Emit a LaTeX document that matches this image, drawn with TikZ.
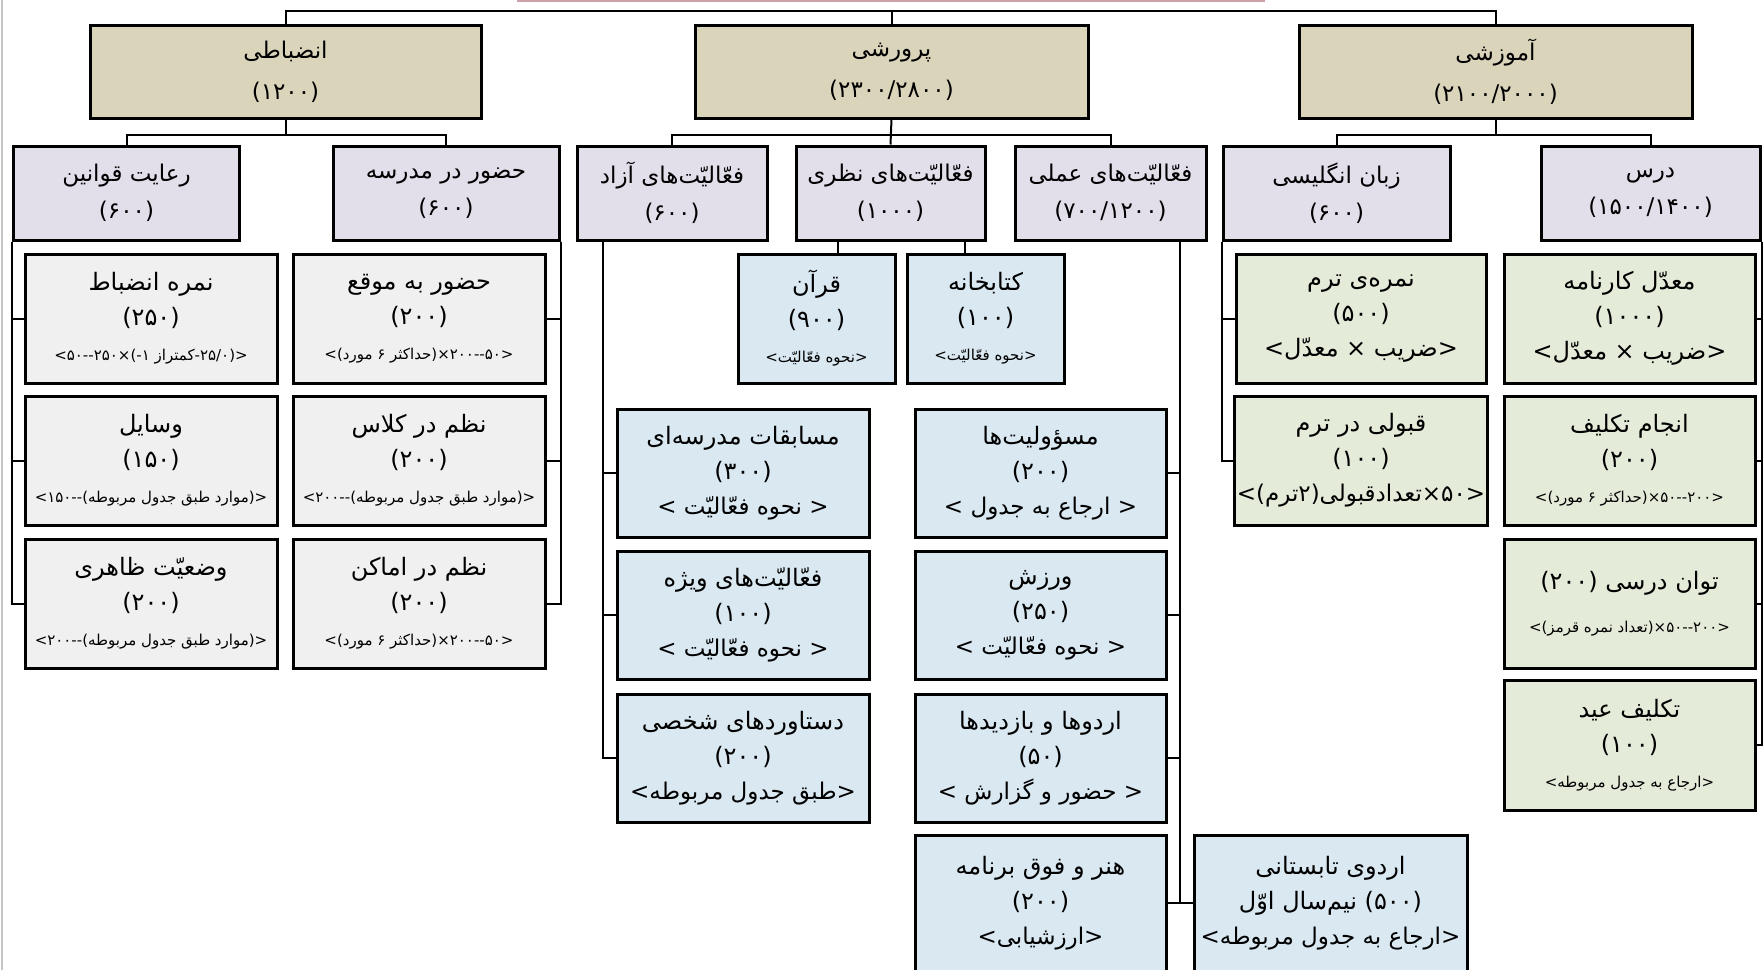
\documentclass[tikz,border=0pt]{standalone}
\usepackage{fontspec}
\usetikzlibrary{calc}
\TeXXeTstate=1
\newfontfamily\fa[Script=Arabic]{DejaVu Sans}
\newcommand\rtlx[1]{\beginR#1\endR}
\newcommand\smF{\fontsize{7.5}{9}\selectfont}
\newcommand\mdF{\fontsize{11.5}{13}\selectfont}
\definecolor{tanc}{RGB}{217,212,186}
\definecolor{lavc}{RGB}{226,222,234}
\definecolor{grayc}{RGB}{240,240,240}
\definecolor{bluec}{RGB}{217,232,241}
\definecolor{greenc}{RGB}{229,235,217}
\definecolor{redl}{RGB}{205,160,168}
\begin{document}
\begin{tikzpicture}[x=0.5pt,y=-0.5pt,
  cn/.style={line width=1pt},
  bx/.style={draw, line width=1.5pt, inner sep=1pt, align=center, font=\fa\fontsize{12}{17.5}\selectfont},
  lo/.style={bx, fill=tanc, minimum height=46.5pt, font=\fa\fontsize{11.5}{20.5}\selectfont},
  lt/.style={bx, fill=lavc, minimum height=47pt, font=\fa\fontsize{11.5}{18.5}\selectfont},
  gb/.style={bx, fill=grayc, minimum width=126pt, minimum height=64.5pt},
  bb/.style={bx, fill=bluec, minimum height=64pt},
  gr/.style={bx, fill=greenc, minimum width=125pt, minimum height=64.5pt}]
\useasboundingbox (0,0) rectangle (1763,971);
\fill[white] (0,0) rectangle (1763,971);
\clip (0,0) rectangle (1763,969);
\draw[gray!45, line width=1pt] (1.5,0) -- (1.5,971);
\draw[redl, line width=1pt] (517,1) -- (1265,1);
% level 1
\node[lo, minimum width=195.5pt] (n1) at (285.5,71.5) {\rtlx{انضباطی}\\(۱۲۰۰)};
\node[lo, minimum width=196.5pt] (n2) at (891.5,71.5) {\rtlx{پرورشی}\\(۲۳۰۰/۲۸۰۰)};
\node[lo, minimum width=196.5pt] (n3) at (1495.5,71.5) {\rtlx{آموزشی}\\(۲۱۰۰/۲۰۰۰)};
% level 2
\node[lt, minimum width=113pt] (a) at (126.5,193) {\rtlx{رعایت قوانین}\\(۶۰۰)};
\node[lt, minimum width=113pt] (b) at (446,193) {\rtlx{حضور در مدرسه}\\(۶۰۰)};
\node[lt, minimum width=95pt] (c) at (672,193) {\rtlx{فعّالیّت‌های آزاد}\\(۶۰۰)};
\node[lt, minimum width=94.5pt] (d) at (890.5,193) {\rtlx{فعّالیّت‌های نظری}\\(۱۰۰۰)};
\node[lt, minimum width=95.5pt] (e) at (1110.5,193) {\rtlx{فعّالیّت‌های عملی}\\(۷۰۰/۱۲۰۰)};
\node[lt, minimum width=113.5pt] (f) at (1336.5,193) {\rtlx{زبان انگلیسی}\\(۶۰۰)};
\node[lt, minimum width=109.5pt] (g) at (1650.5,193) {\rtlx{درس}\\(۱۵۰۰/۱۴۰۰)};
% gray column A
\node[gb] (A1) at (151,318.5) {\rtlx{نمره انضباط}\\(۲۵۰)\\{\smF\rtlx{<(۲۵/۰-کمتراز ۱-)×۲۵۰--۵۰>}}};
\node[gb] (A2) at (151,460.5) {\rtlx{وسایل}\\(۱۵۰)\\{\smF\rtlx{<(موارد طبق جدول مربوطه)--۱۵۰>}}};
\node[gb] (A3) at (151,603.5) {\rtlx{وضعیّت ظاهری}\\(۲۰۰)\\{\smF\rtlx{<(موارد طبق جدول مربوطه)--۲۰۰>}}};
% gray column B
\node[gb] (B1) at (419,318.5) {\rtlx{حضور به موقع}\\(۲۰۰)\\{\smF\rtlx{<۵۰--۲۰۰×(حداکثر ۶ مورد)>}}};
\node[gb] (B2) at (419,460.5) {\rtlx{نظم در کلاس}\\(۲۰۰)\\{\smF\rtlx{<(موارد طبق جدول مربوطه)--۲۰۰>}}};
\node[gb] (B3) at (419,603.5) {\rtlx{نظم در اماکن}\\(۲۰۰)\\{\smF\rtlx{<۵۰--۲۰۰×(حداکثر ۶ مورد)>}}};
% blue
\node[bb, minimum width=78.5pt, minimum height=64.5pt] (quran) at (816.5,318.5) {\rtlx{قرآن}\\(۹۰۰)\\{\smF\rtlx{<نحوه فعّالیّت>}}};
\node[bb, minimum width=78.5pt, minimum height=64.5pt] (kitab) at (985.5,318.5) {\rtlx{کتابخانه}\\(۱۰۰)\\{\smF\rtlx{<نحوه فعّالیّت>}}};
\node[bb, minimum width=126pt] (C1) at (743,473) {\rtlx{مسابقات مدرسه‌ای}\\(۳۰۰)\\{\mdF\rtlx{< نحوه فعّالیّت >}}};
\node[bb, minimum width=126pt] (C2) at (743,615) {\rtlx{فعّالیّت‌های ویژه}\\(۱۰۰)\\{\mdF\rtlx{< نحوه فعّالیّت >}}};
\node[bb, minimum width=126pt] (C3) at (743,758) {\rtlx{دستاوردهای شخصی}\\(۲۰۰)\\{\mdF\rtlx{<طبق جدول مربوطه>}}};
\node[bb, minimum width=125.5pt] (D1) at (1040.5,473) {\rtlx{مسؤولیت‌ها}\\(۲۰۰)\\{\mdF\rtlx{< ارجاع به جدول >}}};
\node[bb, minimum width=125.5pt] (D2) at (1040.5,615) {\rtlx{ورزش}\\(۲۵۰)\\{\mdF\rtlx{< نحوه فعّالیّت >}}};
\node[bb, minimum width=125.5pt] (D3) at (1040.5,758) {\rtlx{اردوها و بازدیدها}\\(۵۰)\\{\mdF\rtlx{< حضور و گزارش >}}};
\node[bb, minimum width=125.5pt, minimum height=68pt] (D4) at (1040.5,903) {\rtlx{هنر و فوق برنامه}\\(۲۰۰)\\{\mdF\rtlx{<ارزشیابی>}}};
\node[bb, minimum width=136.5pt, minimum height=68pt] (camp) at (1330.5,903) {\rtlx{اردوی تابستانی}\\\rtlx{(۵۰۰) نیم‌سال اوّل}\\{\mdF\rtlx{<ارجاع به جدول مربوطه>}}};
% green
\node[gr] (E1) at (1361,318.5) {\rtlx{نمره‌ی ترم}\\(۵۰۰)\\\rtlx{<ضریب × معدّل>}};
\node[gr] (E2) at (1361,460.5) {\rtlx{قبولی در ترم}\\(۱۰۰)\\{\mdF\rtlx{<۵۰×تعدادقبولی(۲ترم)>}}};
\node[gr, minimum width=125.5pt] (F1) at (1629.5,318.5) {\rtlx{معدّل کارنامه}\\(۱۰۰۰)\\\rtlx{<ضریب × معدّل>}};
\node[gr, minimum width=125.5pt] (F2) at (1629.5,460.5) {\rtlx{انجام تکلیف}\\(۲۰۰)\\{\smF\rtlx{<۲۰۰--۵۰×(حداکثر ۶ مورد)>}}};
\node[gr, minimum width=125.5pt] (F3) at (1629.5,603.5) {\rtlx{توان درسی (۲۰۰)}\\[4pt]{\smF\rtlx{<۲۰۰--۵۰×(تعداد نمره قرمز)>}}};
\node[gr, minimum width=125.5pt, minimum height=65pt] (F4) at (1629.5,745) {\rtlx{تکلیف عید}\\(۱۰۰)\\{\smF\rtlx{<ارجاع به جدول مربوطه>}}};
% connectors level 0-1
\coordinate (top) at (891.5,11);
\draw[cn] (n1.north) |- (top) -| (n3.north);
\draw[cn] (top) -- (n2.north);
% level 1-2
\draw[cn] (a.north) |- ($(n1.south)+(0,15)$) -| (b.north);
\draw[cn] (n1.south) -- ($(n1.south)+(0,15)$);
\draw[cn] (c.north) |- ($(n2.south)+(0,15)$) -| (e.north);
\draw[cn] (n2.south) -- (d.north);
\draw[cn] (f.north) |- ($(n3.south)+(0,15)$) -| (g.north);
\draw[cn] (n3.south) -- ($(n3.south)+(0,15)$);
% column A
\draw[cn] (a.south west) |- (A3.west);
\draw[cn] (A1.west) -- (A1.west -| a.south west);
\draw[cn] (A2.west) -- (A2.west -| a.south west);
% column B
\draw[cn] (b.south east) |- (B3.east);
\draw[cn] (B1.east) -- (B1.east -| b.south east);
\draw[cn] (B2.east) -- (B2.east -| b.south east);
% quran / kitab
\coordinate (q1) at ($(quran.north)+(21.5,0)$);
\draw[cn] (q1) -- (q1 |- d.south);
\coordinate (k1) at ($(kitab.north)+(-20.5,0)$);
\draw[cn] (k1) -- (k1 |- d.south);
% column C
\coordinate (cl) at ($(c.south west)+(27,0)$);
\draw[cn] (cl) |- (C3.west);
\draw[cn] (C1.west) -- (C1.west -| cl);
\draw[cn] (C2.west) -- (C2.west -| cl);
% column D
\coordinate (el) at ($(e.south east)+(-28,0)$);
\draw[cn] (el) |- (camp.west);
\draw[cn] (D1.east) -- (D1.east -| el);
\draw[cn] (D2.east) -- (D2.east -| el);
\draw[cn] (D3.east) -- (D3.east -| el);
\draw[cn] (D4.east) -- (D4.east -| el);
% column E
\draw[cn] (f.south west) |- (E2.west);
\draw[cn] (E1.west) -- (E1.west -| f.south west);
% column F
\draw[cn] (g.south east) |- (F4.east);
\draw[cn] (F1.east) -- (F1.east -| g.south east);
\draw[cn] (F2.east) -- (F2.east -| g.south east);
\draw[cn] (F3.east) -- (F3.east -| g.south east);
\end{tikzpicture}
\end{document}
